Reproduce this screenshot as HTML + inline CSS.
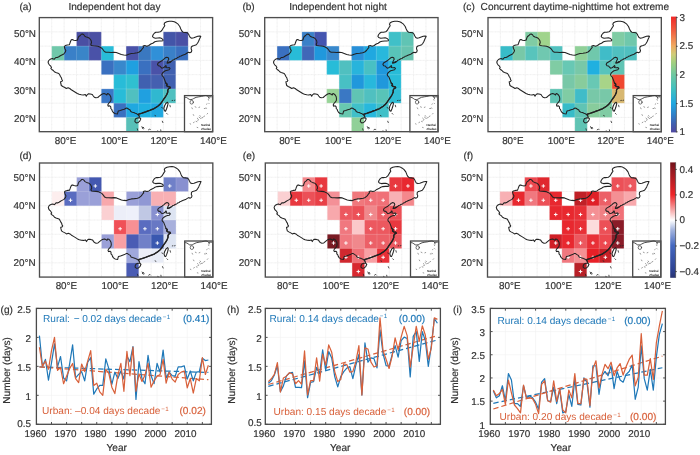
<!DOCTYPE html>
<html lang="en"><head><meta charset="utf-8"><title>Figure</title>
<style>
html,body{margin:0;padding:0;background:#fff;}
body{width:700px;height:455px;overflow:hidden;font-family:"Liberation Sans",Arial,Helvetica,sans-serif;}
svg{display:block;}
text{font-family:"Liberation Sans",Arial,Helvetica,sans-serif;text-rendering:geometricPrecision;}
</style></head><body>
<svg width="700" height="455" viewBox="0 0 700 455">
<rect width="700" height="455" fill="#fff"/>
<defs>
<g id="cn" fill="none" stroke="#222222" stroke-width="1.06" stroke-linejoin="round" stroke-linecap="round">
<path d="M8.8 44.4 L9.5 42.9 L10.5 41.9 L12.0 41.2 L13.5 40.9 L13.5 41.2 L15.0 41.6 L16.5 39.9 L18.0 39.9 L19.5 39.2 L21.0 38.2 L22.5 37.4 L24.5 36.4 L26.0 34.4 L26.5 32.9 L25.5 30.9 L25.0 28.9 L26.0 27.9 L28.0 27.4 L30.0 27.2 L30.5 25.9 L31.2 23.9 L32.0 22.2 L33.0 21.9 L34.5 22.6 L36.5 22.9 L38.2 22.4 L38.8 20.4 L39.5 18.9 L41.0 17.9 L42.0 16.6 L43.2 16.4 L44.5 17.2 L45.5 18.6 L47.0 19.4 L48.8 19.9 L50.0 20.6 L51.2 21.9 L52.0 23.4 L52.2 25.2 L51.5 26.6 L52.0 27.9 L54.0 28.2 L56.5 28.4 L58.5 28.6 L60.5 29.4 L62.5 30.6 L64.0 32.4 L65.0 33.9 L66.5 34.6 L69.0 34.7 L72.0 34.9 L74.5 34.6 L77.0 34.9 L79.5 35.9 L82.0 36.9 L84.5 37.4 L87.0 37.6 L89.5 36.6 L92.0 35.9 L95.0 35.6 L98.0 35.2 L100.0 34.4 L101.8 32.9 L103.0 31.2 L104.2 29.9 L103.8 28.4 L105.5 27.9 L107.5 28.6 L109.5 27.9 L111.5 26.4 L113.5 25.6 L115.5 24.2 L117.5 23.6 L120.0 23.4 L122.0 23.4 L123.5 23.2 L123.8 22.2 L122.5 20.9 L120.5 20.2 L118.5 20.4 L116.0 20.6 L114.0 19.9 L113.2 18.9 L113.8 17.2 L115.0 15.6 L116.5 14.6 L118.8 14.6 L121.0 14.2 L122.5 12.9 L123.5 11.2 L124.5 9.6 L125.5 8.2 L124.8 6.6 L125.5 5.2 L127.5 4.2 L130.0 3.7 L132.5 3.6 L135.0 4.1 L137.0 5.2 L138.8 6.6 L140.5 8.9 L141.5 11.4 L142.5 13.4 L143.8 14.6 L146.0 14.9 L148.0 15.2 L149.2 16.4 L150.0 18.2 L151.0 19.9 L152.5 20.6 L154.5 20.2 L156.5 19.4 L158.5 18.7 L160.5 18.4 L161.5 18.6 L160.8 20.2 L160.0 21.9 L159.2 23.9 L158.2 25.6 L157.0 27.2 L155.0 27.9 L153.2 28.4 L152.0 29.4 L151.8 31.2 L152.5 32.9 L152.0 34.4 L150.5 35.2 L149.2 34.6 L147.8 35.4 L146.0 36.6 L143.2 37.6 L141.7 38.3 L140.6 38.6 L139.8 39.4 L138.2 39.9 L137.2 41.0 L136.0 41.2 L134.5 42.2 L133.2 42.6 L132.3 43.6 L131.0 44.2 L130.0 44.9 L128.0 45.4 L128.5 43.4 L129.5 41.6 L129.0 40.2 L127.5 39.6 L126.0 40.2 L124.5 41.6 L122.5 43.2 L120.5 44.4 L118.8 45.4 L118.2 46.9 L119.0 48.2 L120.5 48.4 L121.5 49.6 L122.5 50.6 L124.0 50.2 L125.5 49.2 L126.5 47.9 L127.0 48.9 L126.5 49.9 L128.5 50.2 L130.0 49.9 L130.8 50.9 L129.8 52.2 L128.0 52.6 L126.0 53.2 L124.5 54.2 L123.2 55.4 L122.5 56.9 L123.0 58.2 L124.2 59.4 L125.0 61.4 L125.8 63.4 L126.5 65.4 L127.8 66.6 L127.2 67.9 L128.5 68.9 L130.5 69.2 L131.0 70.2 L129.5 70.9 L128.5 72.4 L128.5 74.4 L127.5 76.9 L126.0 79.4 L124.5 81.4 L123.2 83.4 L122.0 85.2 L120.5 86.9 L118.5 88.6 L116.5 89.9 L114.5 91.2 L112.5 91.9 L110.5 92.7 L108.5 93.4 L106.5 94.2 L104.5 94.9 L102.5 95.6 L100.5 96.2 L99.2 96.6 L99.8 98.2 L100.2 99.4 L99.0 97.4 L97.5 96.2 L96.0 95.6 L94.5 94.9 L93.0 94.6 L91.5 93.9 L90.8 92.4 L89.5 91.6 L88.0 90.6 L87.0 90.4 L87.0 90.4 L85.0 91.6 L83.0 92.2 L81.0 92.9 L79.0 93.4 L78.5 94.9 L78.2 96.4 L77.0 96.2 L75.5 95.9 L74.0 94.9 L73.0 93.4 L72.5 91.9 L71.5 90.9 L71.5 89.2 L70.5 88.2 L69.0 88.6 L68.5 87.4 L69.2 85.9 L70.5 84.6 L71.5 83.2 L71.8 81.4 L71.5 79.2 L70.5 77.4 L69.2 76.2 L68.2 75.9 L67.5 77.4 L66.5 76.6 L64.8 75.9 L63.0 76.4 L61.5 77.4 L60.0 78.6 L58.5 79.9 L56.5 80.2 L55.0 79.6 L54.0 78.4 L53.0 76.9 L51.0 76.4 L49.0 76.2 L47.8 77.2 L47.0 78.6 L46.0 76.9 L44.0 77.4 L42.0 77.2 L39.8 76.7 L38.0 75.9 L36.0 74.6 L34.0 73.4 L32.0 72.2 L30.5 70.9 L28.8 70.2 L27.0 70.9 L25.5 69.9 L23.5 68.9 L22.0 67.9 L21.5 65.9 L21.2 64.2 L22.5 63.9 L23.2 62.9 L22.5 61.9 L22.2 60.4 L21.2 58.9 L20.5 57.4 L19.5 55.9 L18.0 55.4 L16.5 54.9 L15.0 54.2 L14.0 52.9 L12.5 51.9 L11.5 50.9 L12.2 49.9 L11.2 48.2 L10.0 47.2 L9.2 45.9Z"/>
<path d="M95.8 102.4 L96.6 101.0 L98.5 100.3 L100.6 100.3 L101.5 101.3 L100.6 103.3 L99.0 104.9 L97.0 105.3 L95.6 104.1Z"/>
<path d="M128.2 84.6 L128.8 85.9 L128.2 88.4 L127.2 91.4 L126.2 93.6 L125.2 93.2 L124.5 90.9 L125.2 88.4 L126.5 85.9Z"/>
<path d="M126.5 65.4 L127.8 66.6 L127.2 67.9 L128.5 68.9 L130.5 69.2 L131.0 70.2 L129.5 70.9 L128.5 72.4 L128.5 74.4 L127.5 76.9 L126.0 79.4 L124.5 81.4 L123.2 83.4 L122.0 85.2 L120.5 86.9 L118.5 88.6 L116.5 89.9 L114.5 91.2 L112.5 91.9 L110.5 92.7 L108.5 93.4 L106.5 94.2 L104.5 94.9 L102.5 95.6 L100.5 96.2 L99.2 96.6" stroke-width="1.35"/>
<path d="M131.2 44.4 L129.8 44.9 L128.0 45.3" stroke-width="1.4"/>
<path d="M122.4 90.0 L123.2 90.4" stroke-width="0.8"/>
<path d="M130.6 87.6 L131.0 89.2" stroke-width="0.8"/>
<path d="M127.4 95.8 L128.2 96.6" stroke-width="0.8"/>
<path d="M132.8 82.9 L133.4 82.8" stroke-width="0.8"/>
<path d="M135.0 82.8 L135.6 82.6" stroke-width="0.8"/>
<path d="M115.6 97.9 L116.4 98.3" stroke-width="0.8"/>
<path d="M123.0 103.6 L123.6 105.0" stroke-width="0.8"/>
<path d="M102.6 109.0 L103.4 110.2 L104.0 109.4 L104.6 110.8" stroke-width="0.8"/>
<path d="M102.8 110.4 L103.8 111.2" stroke-width="0.8"/>
<path d="M109.2 112.2 L110.4 111.4 L111.0 112.0" stroke-width="0.8"/>
<path d="M118.2 113.4 L118.8 113.6" stroke-width="0.8"/>
<path d="M121.4 112.2 L121.6 113.4" stroke-width="0.8"/>
<path d="M98.0 111.2 L98.4 112.6" stroke-width="0.8"/>
</g>
<linearGradient id="cb1" x1="0" y1="1" x2="0" y2="0">
<stop offset="0" stop-color="#5048a0"/><stop offset="0.075" stop-color="#4060b0"/><stop offset="0.15" stop-color="#3080c8"/>
<stop offset="0.25" stop-color="#20a8e0"/><stop offset="0.375" stop-color="#40c0c0"/><stop offset="0.5" stop-color="#70c8a0"/>
<stop offset="0.6" stop-color="#a0d080"/><stop offset="0.675" stop-color="#d0cc78"/><stop offset="0.75" stop-color="#f0a860"/>
<stop offset="0.875" stop-color="#f06040"/><stop offset="1" stop-color="#f02828"/></linearGradient>
<linearGradient id="cb2" x1="0" y1="1" x2="0" y2="0">
<stop offset="0" stop-color="#2a3470"/><stop offset="0.06" stop-color="#2c4090"/><stop offset="0.28" stop-color="#4468c0"/>
<stop offset="0.42" stop-color="#a8b8e0"/><stop offset="0.5" stop-color="#ffffff"/><stop offset="0.58" stop-color="#f8b0b0"/>
<stop offset="0.72" stop-color="#ee2428"/><stop offset="0.94" stop-color="#901820"/><stop offset="1" stop-color="#701018"/></linearGradient>
</defs>
<g font-family="'Liberation Sans', Arial, Helvetica, sans-serif">
<g>
<path d="M51.70 17.60V131.68M64.11 17.60V131.68M76.51 17.60V131.68M88.92 17.60V131.68M101.32 17.60V131.68M113.73 17.60V131.68M126.13 17.60V131.68M138.54 17.60V131.68M150.94 17.60V131.68M163.35 17.60V131.68M175.75 17.60V131.68M188.16 17.60V131.68M200.56 17.60V131.68M39.30 31.86H212.62M39.30 46.12H212.62M39.30 60.38H212.62M39.30 74.64H212.62M39.30 88.90H212.62M39.30 103.16H212.62M39.30 117.42H212.62" stroke="#e2e2e2" stroke-width="0.6" fill="none" stroke-dasharray="1 0.4"/>
<rect x="76.51" y="31.86" width="12.90" height="14.76" fill="#4a4fa3"/>
<rect x="88.92" y="31.86" width="12.40" height="14.76" fill="#4a4fa3"/>
<rect x="163.35" y="31.86" width="12.90" height="14.76" fill="#4355a8"/>
<rect x="175.75" y="31.86" width="12.40" height="14.76" fill="#4a50a5"/>
<rect x="51.70" y="46.12" width="12.90" height="14.26" fill="#70c8aa"/>
<rect x="64.11" y="46.12" width="12.90" height="14.26" fill="#3a80c8"/>
<rect x="76.51" y="46.12" width="12.90" height="14.26" fill="#3a85c8"/>
<rect x="88.92" y="46.12" width="12.90" height="14.26" fill="#4a52a8"/>
<rect x="101.32" y="46.12" width="12.40" height="14.76" fill="#28bcd8"/>
<rect x="126.13" y="46.12" width="12.90" height="14.76" fill="#4a52a8"/>
<rect x="138.54" y="46.12" width="12.90" height="14.76" fill="#3a78c0"/>
<rect x="150.94" y="46.12" width="12.90" height="14.76" fill="#3090d8"/>
<rect x="163.35" y="46.12" width="12.90" height="14.76" fill="#3a80c8"/>
<rect x="175.75" y="46.12" width="12.40" height="14.26" fill="#3a70c0"/>
<rect x="101.32" y="60.38" width="12.90" height="14.26" fill="#3a70c0"/>
<rect x="113.73" y="60.38" width="12.90" height="14.76" fill="#3888cc"/>
<rect x="126.13" y="60.38" width="12.90" height="14.76" fill="#20a0e0"/>
<rect x="138.54" y="60.38" width="12.90" height="14.76" fill="#3a70c0"/>
<rect x="150.94" y="60.38" width="12.90" height="14.76" fill="#4a52a8"/>
<rect x="163.35" y="60.38" width="12.40" height="14.76" fill="#4060b0"/>
<rect x="113.73" y="74.64" width="12.90" height="14.76" fill="#28bcd8"/>
<rect x="126.13" y="74.64" width="12.90" height="14.76" fill="#30c0d0"/>
<rect x="138.54" y="74.64" width="12.90" height="14.76" fill="#4060b0"/>
<rect x="150.94" y="74.64" width="12.90" height="14.76" fill="#4560b0"/>
<rect x="163.35" y="74.64" width="12.40" height="14.76" fill="#4060b0"/>
<rect x="101.32" y="88.90" width="12.90" height="14.26" fill="#3a78c8"/>
<rect x="113.73" y="88.90" width="12.90" height="14.76" fill="#28bcd8"/>
<rect x="126.13" y="88.90" width="12.90" height="14.76" fill="#50c0c0"/>
<rect x="138.54" y="88.90" width="12.90" height="14.76" fill="#20a0e0"/>
<rect x="150.94" y="88.90" width="12.90" height="14.76" fill="#30b8d0"/>
<rect x="163.35" y="88.90" width="12.40" height="14.26" fill="#50c0c0"/>
<rect x="113.73" y="103.16" width="12.90" height="14.26" fill="#3a70c0"/>
<rect x="126.13" y="103.16" width="12.90" height="14.76" fill="#20a8e0"/>
<rect x="138.54" y="103.16" width="12.90" height="14.26" fill="#20b0e0"/>
<rect x="150.94" y="103.16" width="12.40" height="14.26" fill="#20a8e0"/>
<rect x="126.13" y="117.42" width="12.40" height="14.26" fill="#58c0b8"/>
<path d="M51.70 17.60V131.68M64.11 17.60V131.68M76.51 17.60V131.68M88.92 17.60V131.68M101.32 17.60V131.68M113.73 17.60V131.68M126.13 17.60V131.68M138.54 17.60V131.68M150.94 17.60V131.68M163.35 17.60V131.68M175.75 17.60V131.68M188.16 17.60V131.68M200.56 17.60V131.68M39.30 31.86H212.62M39.30 46.12H212.62M39.30 60.38H212.62M39.30 74.64H212.62M39.30 88.90H212.62M39.30 103.16H212.62M39.30 117.42H212.62" stroke="#ffffff" stroke-opacity="0.22" stroke-width="0.7" fill="none"/>
<use href="#cn" x="39.30" y="17.60"/>
<rect x="184.50" y="95.60" width="28.12" height="36.08" fill="#fff" stroke="#484848" stroke-width="1.3"/>
<g transform="translate(184.50 95.60)" fill="none" stroke="#3a3a3a" stroke-width="0.6" stroke-linecap="round">
<path d="M0.8 1.6 q1.6 0.2 2.6 1.2 q1.2 1.4 3.0 1.2 q1.6 -0.2 2.6 -1.0 q2.4 -1.6 5.4 -1.8 q2.6 -0.2 5.0 -1.0 q2.0 -0.6 3.6 0.2 q1.2 0.8 1.6 2.4 M24.2 1.4 q1.4 -0.4 2.6 -0.2" stroke-width="0.9"/>
<ellipse cx="7.2" cy="6.6" rx="1.7" ry="1.9" stroke-width="0.7"/>
<path d="M7.4 12.2l.5 1M10.6 11.2l.9.4M14.4 11.8l.8-.3M19.8 12.9h.9M21.6 12.2l.4.6M8.8 19.0l.4.8M22.6 18.4l.5-.6M14.6 21.6l.9.6M16.2 23.0l.8-.8M13.2 24.6l.9-.4M11.6 25.8l.8.3M17.8 22.4l.6-.8M19.4 20.8l.7-.3M15.4 20.0l.5.7M12.8 22.6l.6.5M9.0 27.0l.7-.4M5.6 28.2l.6.3M23.8 3.8l.3.8M24.2 7.6l.4.4M22.0 8.6l.5-.3M12.6 31.8l.7.2" stroke="#555" stroke-width="0.6"/>
</g>
<text x="201.1" y="126.2" font-size="2.90" fill="#333" stroke="#333" stroke-width="0.10" text-anchor="start" >Nanhai</text>
<text x="201.1" y="130.2" font-size="2.90" fill="#333" stroke="#333" stroke-width="0.10" text-anchor="start" >Zhudao</text>
<rect x="39.30" y="17.60" width="173.32" height="114.08" fill="none" stroke="#4e4e4e" stroke-width="1.35"/>
<text x="36.0" y="36.7" font-size="9.90" fill="#333333" stroke="#333333" stroke-width="0.18" text-anchor="end" >50°N</text>
<text x="36.0" y="65.2" font-size="9.90" fill="#333333" stroke="#333333" stroke-width="0.18" text-anchor="end" >40°N</text>
<text x="36.0" y="93.7" font-size="9.90" fill="#333333" stroke="#333333" stroke-width="0.18" text-anchor="end" >30°N</text>
<text x="36.0" y="122.2" font-size="9.90" fill="#333333" stroke="#333333" stroke-width="0.18" text-anchor="end" >20°N</text>
<text x="65.6" y="143.7" font-size="9.90" fill="#333333" stroke="#333333" stroke-width="0.18" text-anchor="middle" >80°E</text>
<text x="114.4" y="143.7" font-size="9.90" fill="#333333" stroke="#333333" stroke-width="0.18" text-anchor="middle" >100°E</text>
<text x="163.9" y="143.7" font-size="9.90" fill="#333333" stroke="#333333" stroke-width="0.18" text-anchor="middle" >120°E</text>
<text x="213.4" y="143.7" font-size="9.90" fill="#333333" stroke="#333333" stroke-width="0.18" text-anchor="middle" >140°E</text>
</g>
<g>
<path d="M277.10 17.60V131.68M289.51 17.60V131.68M301.91 17.60V131.68M314.32 17.60V131.68M326.72 17.60V131.68M339.13 17.60V131.68M351.53 17.60V131.68M363.94 17.60V131.68M376.34 17.60V131.68M388.75 17.60V131.68M401.15 17.60V131.68M413.56 17.60V131.68M425.96 17.60V131.68M264.70 31.86H438.02M264.70 46.12H438.02M264.70 60.38H438.02M264.70 74.64H438.02M264.70 88.90H438.02M264.70 103.16H438.02M264.70 117.42H438.02" stroke="#e2e2e2" stroke-width="0.6" fill="none" stroke-dasharray="1 0.4"/>
<rect x="301.91" y="31.86" width="12.90" height="14.76" fill="#3a80c8"/>
<rect x="314.32" y="31.86" width="12.40" height="14.76" fill="#4455b0"/>
<rect x="388.75" y="31.86" width="12.90" height="14.76" fill="#40c0c8"/>
<rect x="401.15" y="31.86" width="12.40" height="14.76" fill="#60c4b4"/>
<rect x="277.10" y="46.12" width="12.90" height="14.26" fill="#3a70c0"/>
<rect x="289.51" y="46.12" width="12.90" height="14.26" fill="#28bcd8"/>
<rect x="301.91" y="46.12" width="12.90" height="14.26" fill="#4068b8"/>
<rect x="314.32" y="46.12" width="12.90" height="14.26" fill="#2098dc"/>
<rect x="326.72" y="46.12" width="12.40" height="14.76" fill="#3888cc"/>
<rect x="351.53" y="46.12" width="12.90" height="14.76" fill="#2890d8"/>
<rect x="363.94" y="46.12" width="12.90" height="14.76" fill="#20a8e0"/>
<rect x="376.34" y="46.12" width="12.90" height="14.76" fill="#28b8dc"/>
<rect x="388.75" y="46.12" width="12.90" height="14.76" fill="#58c4b8"/>
<rect x="401.15" y="46.12" width="12.40" height="14.26" fill="#68c4b0"/>
<rect x="326.72" y="60.38" width="12.90" height="14.26" fill="#28bcd8"/>
<rect x="339.13" y="60.38" width="12.90" height="14.76" fill="#50c0c0"/>
<rect x="351.53" y="60.38" width="12.90" height="14.76" fill="#28b4dc"/>
<rect x="363.94" y="60.38" width="12.90" height="14.76" fill="#48c0c4"/>
<rect x="376.34" y="60.38" width="12.90" height="14.76" fill="#2098dc"/>
<rect x="388.75" y="60.38" width="12.40" height="14.76" fill="#28bcd8"/>
<rect x="339.13" y="74.64" width="12.90" height="14.76" fill="#48c0c4"/>
<rect x="351.53" y="74.64" width="12.90" height="14.76" fill="#2098dc"/>
<rect x="363.94" y="74.64" width="12.90" height="14.76" fill="#28b8dc"/>
<rect x="376.34" y="74.64" width="12.90" height="14.76" fill="#2098dc"/>
<rect x="388.75" y="74.64" width="12.40" height="14.76" fill="#28bcd8"/>
<rect x="326.72" y="88.90" width="12.90" height="14.26" fill="#98d498"/>
<rect x="339.13" y="88.90" width="12.90" height="14.76" fill="#3a78c4"/>
<rect x="351.53" y="88.90" width="12.90" height="14.76" fill="#60c4b4"/>
<rect x="363.94" y="88.90" width="12.90" height="14.76" fill="#50c0c0"/>
<rect x="376.34" y="88.90" width="12.90" height="14.76" fill="#58c4b8"/>
<rect x="388.75" y="88.90" width="12.40" height="14.26" fill="#30bcd4"/>
<rect x="339.13" y="103.16" width="12.90" height="14.26" fill="#68c8b0"/>
<rect x="351.53" y="103.16" width="12.90" height="14.76" fill="#40c0c8"/>
<rect x="363.94" y="103.16" width="12.90" height="14.26" fill="#28b8dc"/>
<rect x="376.34" y="103.16" width="12.40" height="14.26" fill="#40c0c8"/>
<rect x="351.53" y="117.42" width="12.40" height="14.26" fill="#90d098"/>
<path d="M277.10 17.60V131.68M289.51 17.60V131.68M301.91 17.60V131.68M314.32 17.60V131.68M326.72 17.60V131.68M339.13 17.60V131.68M351.53 17.60V131.68M363.94 17.60V131.68M376.34 17.60V131.68M388.75 17.60V131.68M401.15 17.60V131.68M413.56 17.60V131.68M425.96 17.60V131.68M264.70 31.86H438.02M264.70 46.12H438.02M264.70 60.38H438.02M264.70 74.64H438.02M264.70 88.90H438.02M264.70 103.16H438.02M264.70 117.42H438.02" stroke="#ffffff" stroke-opacity="0.22" stroke-width="0.7" fill="none"/>
<use href="#cn" x="264.70" y="17.60"/>
<rect x="409.90" y="95.60" width="28.12" height="36.08" fill="#fff" stroke="#484848" stroke-width="1.3"/>
<g transform="translate(409.90 95.60)" fill="none" stroke="#3a3a3a" stroke-width="0.6" stroke-linecap="round">
<path d="M0.8 1.6 q1.6 0.2 2.6 1.2 q1.2 1.4 3.0 1.2 q1.6 -0.2 2.6 -1.0 q2.4 -1.6 5.4 -1.8 q2.6 -0.2 5.0 -1.0 q2.0 -0.6 3.6 0.2 q1.2 0.8 1.6 2.4 M24.2 1.4 q1.4 -0.4 2.6 -0.2" stroke-width="0.9"/>
<ellipse cx="7.2" cy="6.6" rx="1.7" ry="1.9" stroke-width="0.7"/>
<path d="M7.4 12.2l.5 1M10.6 11.2l.9.4M14.4 11.8l.8-.3M19.8 12.9h.9M21.6 12.2l.4.6M8.8 19.0l.4.8M22.6 18.4l.5-.6M14.6 21.6l.9.6M16.2 23.0l.8-.8M13.2 24.6l.9-.4M11.6 25.8l.8.3M17.8 22.4l.6-.8M19.4 20.8l.7-.3M15.4 20.0l.5.7M12.8 22.6l.6.5M9.0 27.0l.7-.4M5.6 28.2l.6.3M23.8 3.8l.3.8M24.2 7.6l.4.4M22.0 8.6l.5-.3M12.6 31.8l.7.2" stroke="#555" stroke-width="0.6"/>
</g>
<text x="426.5" y="126.2" font-size="2.90" fill="#333" stroke="#333" stroke-width="0.10" text-anchor="start" >Nanhai</text>
<text x="426.5" y="130.2" font-size="2.90" fill="#333" stroke="#333" stroke-width="0.10" text-anchor="start" >Zhudao</text>
<rect x="264.70" y="17.60" width="173.32" height="114.08" fill="none" stroke="#4e4e4e" stroke-width="1.35"/>
<text x="260.9" y="36.7" font-size="9.90" fill="#333333" stroke="#333333" stroke-width="0.18" text-anchor="end" >50°N</text>
<text x="260.9" y="65.2" font-size="9.90" fill="#333333" stroke="#333333" stroke-width="0.18" text-anchor="end" >40°N</text>
<text x="260.9" y="93.7" font-size="9.90" fill="#333333" stroke="#333333" stroke-width="0.18" text-anchor="end" >30°N</text>
<text x="260.9" y="122.2" font-size="9.90" fill="#333333" stroke="#333333" stroke-width="0.18" text-anchor="end" >20°N</text>
<text x="289.9" y="143.7" font-size="9.90" fill="#333333" stroke="#333333" stroke-width="0.18" text-anchor="middle" >80°E</text>
<text x="338.4" y="143.7" font-size="9.90" fill="#333333" stroke="#333333" stroke-width="0.18" text-anchor="middle" >100°E</text>
<text x="387.9" y="143.7" font-size="9.90" fill="#333333" stroke="#333333" stroke-width="0.18" text-anchor="middle" >120°E</text>
<text x="437.4" y="143.7" font-size="9.90" fill="#333333" stroke="#333333" stroke-width="0.18" text-anchor="middle" >140°E</text>
</g>
<g>
<path d="M500.40 17.60V131.68M512.81 17.60V131.68M525.22 17.60V131.68M537.62 17.60V131.68M550.02 17.60V131.68M562.43 17.60V131.68M574.84 17.60V131.68M587.24 17.60V131.68M599.64 17.60V131.68M612.05 17.60V131.68M624.45 17.60V131.68M636.86 17.60V131.68M649.26 17.60V131.68M488.00 31.86H661.32M488.00 46.12H661.32M488.00 60.38H661.32M488.00 74.64H661.32M488.00 88.90H661.32M488.00 103.16H661.32M488.00 117.42H661.32" stroke="#e2e2e2" stroke-width="0.6" fill="none" stroke-dasharray="1 0.4"/>
<rect x="525.22" y="31.86" width="12.90" height="14.76" fill="#80cca4"/>
<rect x="537.62" y="31.86" width="12.40" height="14.76" fill="#a0d48c"/>
<rect x="612.05" y="31.86" width="12.90" height="14.76" fill="#80cca4"/>
<rect x="624.45" y="31.86" width="12.40" height="14.76" fill="#70c8ac"/>
<rect x="500.40" y="46.12" width="12.90" height="14.26" fill="#38bcc8"/>
<rect x="512.81" y="46.12" width="12.90" height="14.26" fill="#78c8a8"/>
<rect x="525.22" y="46.12" width="12.90" height="14.26" fill="#58c4bc"/>
<rect x="537.62" y="46.12" width="12.90" height="14.26" fill="#70c8b0"/>
<rect x="550.02" y="46.12" width="12.40" height="14.76" fill="#52c2c0"/>
<rect x="574.84" y="46.12" width="12.90" height="14.76" fill="#90d098"/>
<rect x="587.24" y="46.12" width="12.90" height="14.76" fill="#70c8ac"/>
<rect x="599.64" y="46.12" width="12.90" height="14.76" fill="#40bcc8"/>
<rect x="612.05" y="46.12" width="12.90" height="14.76" fill="#50c0c0"/>
<rect x="624.45" y="46.12" width="12.40" height="14.26" fill="#50c0c0"/>
<rect x="550.02" y="60.38" width="12.90" height="14.26" fill="#80cca4"/>
<rect x="562.43" y="60.38" width="12.90" height="14.76" fill="#68c8b4"/>
<rect x="574.84" y="60.38" width="12.90" height="14.76" fill="#78c8a8"/>
<rect x="587.24" y="60.38" width="12.90" height="14.76" fill="#20b0e0"/>
<rect x="599.64" y="60.38" width="12.90" height="14.76" fill="#58c4bc"/>
<rect x="612.05" y="60.38" width="12.40" height="14.76" fill="#60c4b4"/>
<rect x="562.43" y="74.64" width="12.90" height="14.76" fill="#78c8a8"/>
<rect x="574.84" y="74.64" width="12.90" height="14.76" fill="#88cc9c"/>
<rect x="587.24" y="74.64" width="12.90" height="14.76" fill="#68c8b4"/>
<rect x="599.64" y="74.64" width="12.90" height="14.76" fill="#a8d488"/>
<rect x="612.05" y="74.64" width="12.40" height="14.76" fill="#f04830"/>
<rect x="550.02" y="88.90" width="12.90" height="14.26" fill="#60c4b4"/>
<rect x="562.43" y="88.90" width="12.90" height="14.76" fill="#80cca4"/>
<rect x="574.84" y="88.90" width="12.90" height="14.76" fill="#40bcc8"/>
<rect x="587.24" y="88.90" width="12.90" height="14.76" fill="#78c8a8"/>
<rect x="599.64" y="88.90" width="12.90" height="14.76" fill="#78c8a8"/>
<rect x="612.05" y="88.90" width="12.40" height="14.26" fill="#d8b870"/>
<rect x="562.43" y="103.16" width="12.90" height="14.26" fill="#38bcc8"/>
<rect x="574.84" y="103.16" width="12.90" height="14.76" fill="#60c4b4"/>
<rect x="587.24" y="103.16" width="12.90" height="14.26" fill="#88cc9c"/>
<rect x="599.64" y="103.16" width="12.40" height="14.26" fill="#80cca4"/>
<rect x="574.84" y="117.42" width="12.40" height="14.26" fill="#60c4b4"/>
<path d="M500.40 17.60V131.68M512.81 17.60V131.68M525.22 17.60V131.68M537.62 17.60V131.68M550.02 17.60V131.68M562.43 17.60V131.68M574.84 17.60V131.68M587.24 17.60V131.68M599.64 17.60V131.68M612.05 17.60V131.68M624.45 17.60V131.68M636.86 17.60V131.68M649.26 17.60V131.68M488.00 31.86H661.32M488.00 46.12H661.32M488.00 60.38H661.32M488.00 74.64H661.32M488.00 88.90H661.32M488.00 103.16H661.32M488.00 117.42H661.32" stroke="#ffffff" stroke-opacity="0.22" stroke-width="0.7" fill="none"/>
<use href="#cn" x="488.00" y="17.60"/>
<rect x="633.20" y="95.60" width="28.12" height="36.08" fill="#fff" stroke="#484848" stroke-width="1.3"/>
<g transform="translate(633.20 95.60)" fill="none" stroke="#3a3a3a" stroke-width="0.6" stroke-linecap="round">
<path d="M0.8 1.6 q1.6 0.2 2.6 1.2 q1.2 1.4 3.0 1.2 q1.6 -0.2 2.6 -1.0 q2.4 -1.6 5.4 -1.8 q2.6 -0.2 5.0 -1.0 q2.0 -0.6 3.6 0.2 q1.2 0.8 1.6 2.4 M24.2 1.4 q1.4 -0.4 2.6 -0.2" stroke-width="0.9"/>
<ellipse cx="7.2" cy="6.6" rx="1.7" ry="1.9" stroke-width="0.7"/>
<path d="M7.4 12.2l.5 1M10.6 11.2l.9.4M14.4 11.8l.8-.3M19.8 12.9h.9M21.6 12.2l.4.6M8.8 19.0l.4.8M22.6 18.4l.5-.6M14.6 21.6l.9.6M16.2 23.0l.8-.8M13.2 24.6l.9-.4M11.6 25.8l.8.3M17.8 22.4l.6-.8M19.4 20.8l.7-.3M15.4 20.0l.5.7M12.8 22.6l.6.5M9.0 27.0l.7-.4M5.6 28.2l.6.3M23.8 3.8l.3.8M24.2 7.6l.4.4M22.0 8.6l.5-.3M12.6 31.8l.7.2" stroke="#555" stroke-width="0.6"/>
</g>
<text x="649.8" y="126.2" font-size="2.90" fill="#333" stroke="#333" stroke-width="0.10" text-anchor="start" >Nanhai</text>
<text x="649.8" y="130.2" font-size="2.90" fill="#333" stroke="#333" stroke-width="0.10" text-anchor="start" >Zhudao</text>
<rect x="488.00" y="17.60" width="173.32" height="114.08" fill="none" stroke="#4e4e4e" stroke-width="1.35"/>
<text x="483.5" y="36.7" font-size="9.90" fill="#333333" stroke="#333333" stroke-width="0.18" text-anchor="end" >50°N</text>
<text x="483.5" y="65.2" font-size="9.90" fill="#333333" stroke="#333333" stroke-width="0.18" text-anchor="end" >40°N</text>
<text x="483.5" y="93.7" font-size="9.90" fill="#333333" stroke="#333333" stroke-width="0.18" text-anchor="end" >30°N</text>
<text x="483.5" y="122.2" font-size="9.90" fill="#333333" stroke="#333333" stroke-width="0.18" text-anchor="end" >20°N</text>
<text x="512.9" y="143.7" font-size="9.90" fill="#333333" stroke="#333333" stroke-width="0.18" text-anchor="middle" >80°E</text>
<text x="561.3" y="143.7" font-size="9.90" fill="#333333" stroke="#333333" stroke-width="0.18" text-anchor="middle" >100°E</text>
<text x="610.8" y="143.7" font-size="9.90" fill="#333333" stroke="#333333" stroke-width="0.18" text-anchor="middle" >120°E</text>
<text x="660.3" y="143.7" font-size="9.90" fill="#333333" stroke="#333333" stroke-width="0.18" text-anchor="middle" >140°E</text>
</g>
<g>
<path d="M51.91 163.00V277.08M64.31 163.00V277.08M76.72 163.00V277.08M89.12 163.00V277.08M101.53 163.00V277.08M113.93 163.00V277.08M126.33 163.00V277.08M138.74 163.00V277.08M151.14 163.00V277.08M163.55 163.00V277.08M175.95 163.00V277.08M188.36 163.00V277.08M200.76 163.00V277.08M39.50 177.26H212.82M39.50 191.52H212.82M39.50 205.78H212.82M39.50 220.04H212.82M39.50 234.30H212.82M39.50 248.56H212.82M39.50 262.82H212.82" stroke="#e2e2e2" stroke-width="0.6" fill="none" stroke-dasharray="1 0.4"/>
<rect x="76.72" y="177.26" width="12.90" height="14.76" fill="#9aa0d8"/>
<rect x="89.12" y="177.26" width="12.40" height="14.76" fill="#4458b0"/>
<rect x="163.55" y="177.26" width="12.90" height="14.76" fill="#7080c8"/>
<rect x="175.95" y="177.26" width="12.40" height="14.26" fill="#8890d0"/>
<rect x="51.91" y="191.52" width="12.90" height="14.26" fill="#fdeeee"/>
<rect x="64.31" y="191.52" width="12.90" height="14.26" fill="#5a6cc0"/>
<rect x="76.72" y="191.52" width="12.90" height="14.26" fill="#9aa0d8"/>
<rect x="89.12" y="191.52" width="12.90" height="14.26" fill="#9aa0d8"/>
<rect x="101.53" y="191.52" width="12.40" height="14.76" fill="#f8a8ac"/>
<rect x="126.33" y="191.52" width="12.90" height="14.76" fill="#9aa0d8"/>
<rect x="138.74" y="191.52" width="12.90" height="14.76" fill="#9098d4"/>
<rect x="151.14" y="191.52" width="12.90" height="14.76" fill="#f8b0b4"/>
<rect x="163.55" y="191.52" width="12.40" height="14.76" fill="#f8b0b4"/>
<rect x="101.53" y="205.78" width="12.90" height="14.26" fill="#fbd0d2"/>
<rect x="113.93" y="205.78" width="12.90" height="14.76" fill="#eceef8"/>
<rect x="126.33" y="205.78" width="12.90" height="14.76" fill="#eef0fa"/>
<rect x="138.74" y="205.78" width="12.90" height="14.76" fill="#c0c8e4"/>
<rect x="151.14" y="205.78" width="12.90" height="14.76" fill="#8890d0"/>
<rect x="163.55" y="205.78" width="12.40" height="14.76" fill="#dde4f2"/>
<rect x="113.93" y="220.04" width="12.90" height="14.76" fill="#f05057"/>
<rect x="126.33" y="220.04" width="12.90" height="14.76" fill="#f89094"/>
<rect x="138.74" y="220.04" width="12.90" height="14.76" fill="#5a6cc0"/>
<rect x="151.14" y="220.04" width="12.90" height="14.76" fill="#6878c4"/>
<rect x="163.55" y="220.04" width="12.40" height="14.76" fill="#a8b0dc"/>
<rect x="101.53" y="234.30" width="12.90" height="14.26" fill="#9aa0d8"/>
<rect x="113.93" y="234.30" width="12.90" height="14.26" fill="#f8a0a4"/>
<rect x="126.33" y="234.30" width="12.90" height="14.76" fill="#4a5cb4"/>
<rect x="138.74" y="234.30" width="12.90" height="14.76" fill="#7080c8"/>
<rect x="151.14" y="234.30" width="12.90" height="14.76" fill="#3a58b0"/>
<rect x="163.55" y="234.30" width="12.40" height="14.26" fill="#dde4f2"/>
<rect x="126.33" y="248.56" width="12.90" height="14.76" fill="#a0a8dc"/>
<rect x="138.74" y="248.56" width="12.90" height="14.26" fill="#eceef8"/>
<rect x="151.14" y="248.56" width="12.40" height="14.26" fill="#e8ecf6"/>
<rect x="126.33" y="262.82" width="12.40" height="14.26" fill="#4a5cb4"/>
<path d="M51.91 163.00V277.08M64.31 163.00V277.08M76.72 163.00V277.08M89.12 163.00V277.08M101.53 163.00V277.08M113.93 163.00V277.08M126.33 163.00V277.08M138.74 163.00V277.08M151.14 163.00V277.08M163.55 163.00V277.08M175.95 163.00V277.08M188.36 163.00V277.08M200.76 163.00V277.08M39.50 177.26H212.82M39.50 191.52H212.82M39.50 205.78H212.82M39.50 220.04H212.82M39.50 234.30H212.82M39.50 248.56H212.82M39.50 262.82H212.82" stroke="#ffffff" stroke-opacity="0.22" stroke-width="0.7" fill="none"/>
<path d="M93.52 185.99h3.6M95.32 184.19v3.6" stroke="#fff" stroke-width="0.95"/>
<path d="M167.95 185.99h3.6M169.75 184.19v3.6" stroke="#fff" stroke-width="0.95"/>
<path d="M68.71 200.25h3.6M70.51 198.45v3.6" stroke="#fff" stroke-width="0.95"/>
<path d="M155.55 214.51h3.6M157.35 212.71v3.6" stroke="#fff" stroke-width="0.95"/>
<path d="M118.33 228.77h3.6M120.13 226.97v3.6" stroke="#fff" stroke-width="0.95"/>
<path d="M143.14 228.77h3.6M144.94 226.97v3.6" stroke="#fff" stroke-width="0.95"/>
<path d="M155.55 228.77h3.6M157.35 226.97v3.6" stroke="#fff" stroke-width="0.95"/>
<path d="M155.55 243.03h3.6M157.35 241.23v3.6" stroke="#fff" stroke-width="0.95"/>
<use href="#cn" x="39.50" y="163.00"/>
<rect x="184.70" y="241.00" width="28.12" height="36.08" fill="#fff" stroke="#484848" stroke-width="1.3"/>
<g transform="translate(184.70 241.00)" fill="none" stroke="#3a3a3a" stroke-width="0.6" stroke-linecap="round">
<path d="M0.8 1.6 q1.6 0.2 2.6 1.2 q1.2 1.4 3.0 1.2 q1.6 -0.2 2.6 -1.0 q2.4 -1.6 5.4 -1.8 q2.6 -0.2 5.0 -1.0 q2.0 -0.6 3.6 0.2 q1.2 0.8 1.6 2.4 M24.2 1.4 q1.4 -0.4 2.6 -0.2" stroke-width="0.9"/>
<ellipse cx="7.2" cy="6.6" rx="1.7" ry="1.9" stroke-width="0.7"/>
<path d="M7.4 12.2l.5 1M10.6 11.2l.9.4M14.4 11.8l.8-.3M19.8 12.9h.9M21.6 12.2l.4.6M8.8 19.0l.4.8M22.6 18.4l.5-.6M14.6 21.6l.9.6M16.2 23.0l.8-.8M13.2 24.6l.9-.4M11.6 25.8l.8.3M17.8 22.4l.6-.8M19.4 20.8l.7-.3M15.4 20.0l.5.7M12.8 22.6l.6.5M9.0 27.0l.7-.4M5.6 28.2l.6.3M23.8 3.8l.3.8M24.2 7.6l.4.4M22.0 8.6l.5-.3M12.6 31.8l.7.2" stroke="#555" stroke-width="0.6"/>
</g>
<text x="201.3" y="271.6" font-size="2.90" fill="#333" stroke="#333" stroke-width="0.10" text-anchor="start" >Nanhai</text>
<text x="201.3" y="275.6" font-size="2.90" fill="#333" stroke="#333" stroke-width="0.10" text-anchor="start" >Zhudao</text>
<rect x="39.50" y="163.00" width="173.32" height="114.08" fill="none" stroke="#4e4e4e" stroke-width="1.35"/>
<text x="35.7" y="180.7" font-size="9.90" fill="#333333" stroke="#333333" stroke-width="0.18" text-anchor="end" >50°N</text>
<text x="35.7" y="209.2" font-size="9.90" fill="#333333" stroke="#333333" stroke-width="0.18" text-anchor="end" >40°N</text>
<text x="35.7" y="237.7" font-size="9.90" fill="#333333" stroke="#333333" stroke-width="0.18" text-anchor="end" >30°N</text>
<text x="35.7" y="266.2" font-size="9.90" fill="#333333" stroke="#333333" stroke-width="0.18" text-anchor="end" >20°N</text>
<text x="66.4" y="289.1" font-size="9.90" fill="#333333" stroke="#333333" stroke-width="0.18" text-anchor="middle" >80°E</text>
<text x="115.1" y="289.1" font-size="9.90" fill="#333333" stroke="#333333" stroke-width="0.18" text-anchor="middle" >100°E</text>
<text x="164.6" y="289.1" font-size="9.90" fill="#333333" stroke="#333333" stroke-width="0.18" text-anchor="middle" >120°E</text>
<text x="214.1" y="289.1" font-size="9.90" fill="#333333" stroke="#333333" stroke-width="0.18" text-anchor="middle" >140°E</text>
</g>
<g>
<path d="M277.70 163.00V277.08M290.11 163.00V277.08M302.51 163.00V277.08M314.92 163.00V277.08M327.32 163.00V277.08M339.73 163.00V277.08M352.13 163.00V277.08M364.54 163.00V277.08M376.94 163.00V277.08M389.35 163.00V277.08M401.75 163.00V277.08M414.16 163.00V277.08M426.56 163.00V277.08M265.30 177.26H438.62M265.30 191.52H438.62M265.30 205.78H438.62M265.30 220.04H438.62M265.30 234.30H438.62M265.30 248.56H438.62M265.30 262.82H438.62" stroke="#e2e2e2" stroke-width="0.6" fill="none" stroke-dasharray="1 0.4"/>
<rect x="302.51" y="177.26" width="12.90" height="14.76" fill="#f4888c"/>
<rect x="314.92" y="177.26" width="12.40" height="14.76" fill="#e8383f"/>
<rect x="389.35" y="177.26" width="12.90" height="14.76" fill="#e8383f"/>
<rect x="401.75" y="177.26" width="12.40" height="14.76" fill="#e8282f"/>
<rect x="277.70" y="191.52" width="12.90" height="14.26" fill="#fbd0d2"/>
<rect x="290.11" y="191.52" width="12.90" height="14.26" fill="#e8383f"/>
<rect x="302.51" y="191.52" width="12.90" height="14.26" fill="#ec5057"/>
<rect x="314.92" y="191.52" width="12.90" height="14.26" fill="#e84047"/>
<rect x="327.32" y="191.52" width="12.40" height="14.76" fill="#f49097"/>
<rect x="352.13" y="191.52" width="12.90" height="14.76" fill="#f0787c"/>
<rect x="364.54" y="191.52" width="12.90" height="14.76" fill="#f07077"/>
<rect x="376.94" y="191.52" width="12.90" height="14.76" fill="#f07077"/>
<rect x="389.35" y="191.52" width="12.90" height="14.76" fill="#f8b0b4"/>
<rect x="401.75" y="191.52" width="12.40" height="14.26" fill="#f4888c"/>
<rect x="327.32" y="205.78" width="12.90" height="14.26" fill="#f8a8ac"/>
<rect x="339.73" y="205.78" width="12.90" height="14.76" fill="#ec585f"/>
<rect x="352.13" y="205.78" width="12.90" height="14.76" fill="#ec5057"/>
<rect x="364.54" y="205.78" width="12.90" height="14.76" fill="#f0888c"/>
<rect x="376.94" y="205.78" width="12.90" height="14.76" fill="#ec6067"/>
<rect x="389.35" y="205.78" width="12.40" height="14.76" fill="#ec5057"/>
<rect x="339.73" y="220.04" width="12.90" height="14.76" fill="#f0787f"/>
<rect x="352.13" y="220.04" width="12.90" height="14.76" fill="#fbc8ca"/>
<rect x="364.54" y="220.04" width="12.90" height="14.76" fill="#ec585f"/>
<rect x="376.94" y="220.04" width="12.90" height="14.76" fill="#ec585f"/>
<rect x="389.35" y="220.04" width="12.40" height="14.76" fill="#e8383f"/>
<rect x="327.32" y="234.30" width="12.90" height="14.26" fill="#7a1c24"/>
<rect x="339.73" y="234.30" width="12.90" height="14.76" fill="#f0787f"/>
<rect x="352.13" y="234.30" width="12.90" height="14.76" fill="#f0888c"/>
<rect x="364.54" y="234.30" width="12.90" height="14.76" fill="#ec6067"/>
<rect x="376.94" y="234.30" width="12.90" height="14.76" fill="#ec6067"/>
<rect x="389.35" y="234.30" width="12.40" height="14.26" fill="#ec585f"/>
<rect x="339.73" y="248.56" width="12.90" height="14.26" fill="#d0282f"/>
<rect x="352.13" y="248.56" width="12.90" height="14.76" fill="#f07077"/>
<rect x="364.54" y="248.56" width="12.90" height="14.26" fill="#f8a0a4"/>
<rect x="376.94" y="248.56" width="12.40" height="14.26" fill="#e83037"/>
<rect x="352.13" y="262.82" width="12.40" height="14.26" fill="#d8282f"/>
<path d="M277.70 163.00V277.08M290.11 163.00V277.08M302.51 163.00V277.08M314.92 163.00V277.08M327.32 163.00V277.08M339.73 163.00V277.08M352.13 163.00V277.08M364.54 163.00V277.08M376.94 163.00V277.08M389.35 163.00V277.08M401.75 163.00V277.08M414.16 163.00V277.08M426.56 163.00V277.08M265.30 177.26H438.62M265.30 191.52H438.62M265.30 205.78H438.62M265.30 220.04H438.62M265.30 234.30H438.62M265.30 248.56H438.62M265.30 262.82H438.62" stroke="#ffffff" stroke-opacity="0.22" stroke-width="0.7" fill="none"/>
<path d="M306.92 185.99h3.6M308.72 184.19v3.6" stroke="#fff" stroke-width="0.95"/>
<path d="M319.32 185.99h3.6M321.12 184.19v3.6" stroke="#fff" stroke-width="0.95"/>
<path d="M393.75 185.99h3.6M395.55 184.19v3.6" stroke="#fff" stroke-width="0.95"/>
<path d="M406.16 185.99h3.6M407.96 184.19v3.6" stroke="#fff" stroke-width="0.95"/>
<path d="M294.51 200.25h3.6M296.31 198.45v3.6" stroke="#fff" stroke-width="0.95"/>
<path d="M306.92 200.25h3.6M308.72 198.45v3.6" stroke="#fff" stroke-width="0.95"/>
<path d="M319.32 200.25h3.6M321.12 198.45v3.6" stroke="#fff" stroke-width="0.95"/>
<path d="M356.54 200.25h3.6M358.34 198.45v3.6" stroke="#fff" stroke-width="0.95"/>
<path d="M368.94 200.25h3.6M370.74 198.45v3.6" stroke="#fff" stroke-width="0.95"/>
<path d="M381.35 200.25h3.6M383.15 198.45v3.6" stroke="#fff" stroke-width="0.95"/>
<path d="M344.13 214.51h3.6M345.93 212.71v3.6" stroke="#fff" stroke-width="0.95"/>
<path d="M356.54 214.51h3.6M358.34 212.71v3.6" stroke="#fff" stroke-width="0.95"/>
<path d="M368.94 214.51h3.6M370.74 212.71v3.6" stroke="#fff" stroke-width="0.95"/>
<path d="M381.35 214.51h3.6M383.15 212.71v3.6" stroke="#fff" stroke-width="0.95"/>
<path d="M393.75 214.51h3.6M395.55 212.71v3.6" stroke="#fff" stroke-width="0.95"/>
<path d="M344.13 228.77h3.6M345.93 226.97v3.6" stroke="#fff" stroke-width="0.95"/>
<path d="M368.94 228.77h3.6M370.74 226.97v3.6" stroke="#fff" stroke-width="0.95"/>
<path d="M381.35 228.77h3.6M383.15 226.97v3.6" stroke="#fff" stroke-width="0.95"/>
<path d="M393.75 228.77h3.6M395.55 226.97v3.6" stroke="#fff" stroke-width="0.95"/>
<path d="M331.73 243.03h3.6M333.53 241.23v3.6" stroke="#fff" stroke-width="0.95"/>
<path d="M344.13 243.03h3.6M345.93 241.23v3.6" stroke="#fff" stroke-width="0.95"/>
<path d="M368.94 243.03h3.6M370.74 241.23v3.6" stroke="#fff" stroke-width="0.95"/>
<path d="M381.35 243.03h3.6M383.15 241.23v3.6" stroke="#fff" stroke-width="0.95"/>
<path d="M393.75 243.03h3.6M395.55 241.23v3.6" stroke="#fff" stroke-width="0.95"/>
<path d="M344.13 257.29h3.6M345.93 255.49v3.6" stroke="#fff" stroke-width="0.95"/>
<path d="M356.54 257.29h3.6M358.34 255.49v3.6" stroke="#fff" stroke-width="0.95"/>
<path d="M368.94 257.29h3.6M370.74 255.49v3.6" stroke="#fff" stroke-width="0.95"/>
<path d="M381.35 257.29h3.6M383.15 255.49v3.6" stroke="#fff" stroke-width="0.95"/>
<path d="M356.54 271.55h3.6M358.34 269.75v3.6" stroke="#fff" stroke-width="0.95"/>
<use href="#cn" x="265.30" y="163.00"/>
<rect x="410.50" y="241.00" width="28.12" height="36.08" fill="#fff" stroke="#484848" stroke-width="1.3"/>
<g transform="translate(410.50 241.00)" fill="none" stroke="#3a3a3a" stroke-width="0.6" stroke-linecap="round">
<path d="M0.8 1.6 q1.6 0.2 2.6 1.2 q1.2 1.4 3.0 1.2 q1.6 -0.2 2.6 -1.0 q2.4 -1.6 5.4 -1.8 q2.6 -0.2 5.0 -1.0 q2.0 -0.6 3.6 0.2 q1.2 0.8 1.6 2.4 M24.2 1.4 q1.4 -0.4 2.6 -0.2" stroke-width="0.9"/>
<ellipse cx="7.2" cy="6.6" rx="1.7" ry="1.9" stroke-width="0.7"/>
<path d="M7.4 12.2l.5 1M10.6 11.2l.9.4M14.4 11.8l.8-.3M19.8 12.9h.9M21.6 12.2l.4.6M8.8 19.0l.4.8M22.6 18.4l.5-.6M14.6 21.6l.9.6M16.2 23.0l.8-.8M13.2 24.6l.9-.4M11.6 25.8l.8.3M17.8 22.4l.6-.8M19.4 20.8l.7-.3M15.4 20.0l.5.7M12.8 22.6l.6.5M9.0 27.0l.7-.4M5.6 28.2l.6.3M23.8 3.8l.3.8M24.2 7.6l.4.4M22.0 8.6l.5-.3M12.6 31.8l.7.2" stroke="#555" stroke-width="0.6"/>
</g>
<text x="427.1" y="271.6" font-size="2.90" fill="#333" stroke="#333" stroke-width="0.10" text-anchor="start" >Nanhai</text>
<text x="427.1" y="275.6" font-size="2.90" fill="#333" stroke="#333" stroke-width="0.10" text-anchor="start" >Zhudao</text>
<rect x="265.30" y="163.00" width="173.32" height="114.08" fill="none" stroke="#4e4e4e" stroke-width="1.35"/>
<text x="260.8" y="180.7" font-size="9.90" fill="#333333" stroke="#333333" stroke-width="0.18" text-anchor="end" >50°N</text>
<text x="260.8" y="209.2" font-size="9.90" fill="#333333" stroke="#333333" stroke-width="0.18" text-anchor="end" >40°N</text>
<text x="260.8" y="237.7" font-size="9.90" fill="#333333" stroke="#333333" stroke-width="0.18" text-anchor="end" >30°N</text>
<text x="260.8" y="266.2" font-size="9.90" fill="#333333" stroke="#333333" stroke-width="0.18" text-anchor="end" >20°N</text>
<text x="287.8" y="289.1" font-size="9.90" fill="#333333" stroke="#333333" stroke-width="0.18" text-anchor="middle" >80°E</text>
<text x="336.2" y="289.1" font-size="9.90" fill="#333333" stroke="#333333" stroke-width="0.18" text-anchor="middle" >100°E</text>
<text x="385.7" y="289.1" font-size="9.90" fill="#333333" stroke="#333333" stroke-width="0.18" text-anchor="middle" >120°E</text>
<text x="435.2" y="289.1" font-size="9.90" fill="#333333" stroke="#333333" stroke-width="0.18" text-anchor="middle" >140°E</text>
</g>
<g>
<path d="M499.90 163.00V277.08M512.31 163.00V277.08M524.72 163.00V277.08M537.12 163.00V277.08M549.52 163.00V277.08M561.93 163.00V277.08M574.34 163.00V277.08M586.74 163.00V277.08M599.14 163.00V277.08M611.55 163.00V277.08M623.95 163.00V277.08M636.36 163.00V277.08M648.76 163.00V277.08M487.50 177.26H660.82M487.50 191.52H660.82M487.50 205.78H660.82M487.50 220.04H660.82M487.50 234.30H660.82M487.50 248.56H660.82M487.50 262.82H660.82" stroke="#e2e2e2" stroke-width="0.6" fill="none" stroke-dasharray="1 0.4"/>
<rect x="524.72" y="177.26" width="12.90" height="14.76" fill="#ec484f"/>
<rect x="537.12" y="177.26" width="12.40" height="14.76" fill="#e0282f"/>
<rect x="611.55" y="177.26" width="12.90" height="14.76" fill="#ec5057"/>
<rect x="623.95" y="177.26" width="12.40" height="14.76" fill="#ec585f"/>
<rect x="499.90" y="191.52" width="12.90" height="14.26" fill="#f8b0b4"/>
<rect x="512.31" y="191.52" width="12.90" height="14.26" fill="#e8282f"/>
<rect x="524.72" y="191.52" width="12.90" height="14.26" fill="#f0787f"/>
<rect x="537.12" y="191.52" width="12.90" height="14.26" fill="#ec5057"/>
<rect x="549.52" y="191.52" width="12.40" height="14.76" fill="#e8282f"/>
<rect x="574.34" y="191.52" width="12.90" height="14.76" fill="#c02027"/>
<rect x="586.74" y="191.52" width="12.90" height="14.76" fill="#e02027"/>
<rect x="599.14" y="191.52" width="12.90" height="14.76" fill="#ec6067"/>
<rect x="611.55" y="191.52" width="12.90" height="14.76" fill="#f49094"/>
<rect x="623.95" y="191.52" width="12.40" height="14.26" fill="#f8a8ac"/>
<rect x="549.52" y="205.78" width="12.90" height="14.26" fill="#e8282f"/>
<rect x="561.93" y="205.78" width="12.90" height="14.76" fill="#e8282f"/>
<rect x="574.34" y="205.78" width="12.90" height="14.76" fill="#e83037"/>
<rect x="586.74" y="205.78" width="12.90" height="14.76" fill="#f49094"/>
<rect x="599.14" y="205.78" width="12.90" height="14.76" fill="#f08084"/>
<rect x="611.55" y="205.78" width="12.40" height="14.76" fill="#f07077"/>
<rect x="561.93" y="220.04" width="12.90" height="14.76" fill="#e8282f"/>
<rect x="574.34" y="220.04" width="12.90" height="14.76" fill="#e83037"/>
<rect x="586.74" y="220.04" width="12.90" height="14.76" fill="#fcdcdc"/>
<rect x="599.14" y="220.04" width="12.90" height="14.76" fill="#ec5057"/>
<rect x="611.55" y="220.04" width="12.40" height="14.76" fill="#8a1c28"/>
<rect x="549.52" y="234.30" width="12.90" height="14.26" fill="#d02027"/>
<rect x="561.93" y="234.30" width="12.90" height="14.76" fill="#e8282f"/>
<rect x="574.34" y="234.30" width="12.90" height="14.76" fill="#ec585f"/>
<rect x="586.74" y="234.30" width="12.90" height="14.76" fill="#e83037"/>
<rect x="599.14" y="234.30" width="12.90" height="14.76" fill="#ec484f"/>
<rect x="611.55" y="234.30" width="12.40" height="14.26" fill="#8a1c28"/>
<rect x="561.93" y="248.56" width="12.90" height="14.26" fill="#f0787f"/>
<rect x="574.34" y="248.56" width="12.90" height="14.76" fill="#f49094"/>
<rect x="586.74" y="248.56" width="12.90" height="14.26" fill="#e82027"/>
<rect x="599.14" y="248.56" width="12.40" height="14.26" fill="#c82027"/>
<rect x="574.34" y="262.82" width="12.40" height="14.26" fill="#b82027"/>
<path d="M499.90 163.00V277.08M512.31 163.00V277.08M524.72 163.00V277.08M537.12 163.00V277.08M549.52 163.00V277.08M561.93 163.00V277.08M574.34 163.00V277.08M586.74 163.00V277.08M599.14 163.00V277.08M611.55 163.00V277.08M623.95 163.00V277.08M636.36 163.00V277.08M648.76 163.00V277.08M487.50 177.26H660.82M487.50 191.52H660.82M487.50 205.78H660.82M487.50 220.04H660.82M487.50 234.30H660.82M487.50 248.56H660.82M487.50 262.82H660.82" stroke="#ffffff" stroke-opacity="0.22" stroke-width="0.7" fill="none"/>
<path d="M529.12 185.99h3.6M530.92 184.19v3.6" stroke="#fff" stroke-width="0.95"/>
<path d="M541.52 185.99h3.6M543.32 184.19v3.6" stroke="#fff" stroke-width="0.95"/>
<path d="M615.95 185.99h3.6M617.75 184.19v3.6" stroke="#fff" stroke-width="0.95"/>
<path d="M628.36 185.99h3.6M630.16 184.19v3.6" stroke="#fff" stroke-width="0.95"/>
<path d="M516.71 200.25h3.6M518.51 198.45v3.6" stroke="#fff" stroke-width="0.95"/>
<path d="M529.12 200.25h3.6M530.92 198.45v3.6" stroke="#fff" stroke-width="0.95"/>
<path d="M541.52 200.25h3.6M543.32 198.45v3.6" stroke="#fff" stroke-width="0.95"/>
<path d="M553.93 200.25h3.6M555.73 198.45v3.6" stroke="#fff" stroke-width="0.95"/>
<path d="M578.74 200.25h3.6M580.54 198.45v3.6" stroke="#fff" stroke-width="0.95"/>
<path d="M591.14 200.25h3.6M592.94 198.45v3.6" stroke="#fff" stroke-width="0.95"/>
<path d="M603.55 200.25h3.6M605.35 198.45v3.6" stroke="#fff" stroke-width="0.95"/>
<path d="M553.93 214.51h3.6M555.73 212.71v3.6" stroke="#fff" stroke-width="0.95"/>
<path d="M566.33 214.51h3.6M568.13 212.71v3.6" stroke="#fff" stroke-width="0.95"/>
<path d="M578.74 214.51h3.6M580.54 212.71v3.6" stroke="#fff" stroke-width="0.95"/>
<path d="M591.14 214.51h3.6M592.94 212.71v3.6" stroke="#fff" stroke-width="0.95"/>
<path d="M603.55 214.51h3.6M605.35 212.71v3.6" stroke="#fff" stroke-width="0.95"/>
<path d="M615.95 214.51h3.6M617.75 212.71v3.6" stroke="#fff" stroke-width="0.95"/>
<path d="M566.33 228.77h3.6M568.13 226.97v3.6" stroke="#fff" stroke-width="0.95"/>
<path d="M578.74 228.77h3.6M580.54 226.97v3.6" stroke="#fff" stroke-width="0.95"/>
<path d="M603.55 228.77h3.6M605.35 226.97v3.6" stroke="#fff" stroke-width="0.95"/>
<path d="M615.95 228.77h3.6M617.75 226.97v3.6" stroke="#fff" stroke-width="0.95"/>
<path d="M553.93 243.03h3.6M555.73 241.23v3.6" stroke="#fff" stroke-width="0.95"/>
<path d="M566.33 243.03h3.6M568.13 241.23v3.6" stroke="#fff" stroke-width="0.95"/>
<path d="M578.74 243.03h3.6M580.54 241.23v3.6" stroke="#fff" stroke-width="0.95"/>
<path d="M591.14 243.03h3.6M592.94 241.23v3.6" stroke="#fff" stroke-width="0.95"/>
<path d="M603.55 243.03h3.6M605.35 241.23v3.6" stroke="#fff" stroke-width="0.95"/>
<path d="M615.95 243.03h3.6M617.75 241.23v3.6" stroke="#fff" stroke-width="0.95"/>
<path d="M566.33 257.29h3.6M568.13 255.49v3.6" stroke="#fff" stroke-width="0.95"/>
<path d="M578.74 257.29h3.6M580.54 255.49v3.6" stroke="#fff" stroke-width="0.95"/>
<path d="M591.14 257.29h3.6M592.94 255.49v3.6" stroke="#fff" stroke-width="0.95"/>
<path d="M603.55 257.29h3.6M605.35 255.49v3.6" stroke="#fff" stroke-width="0.95"/>
<path d="M578.74 271.55h3.6M580.54 269.75v3.6" stroke="#fff" stroke-width="0.95"/>
<use href="#cn" x="487.50" y="163.00"/>
<rect x="632.70" y="241.00" width="28.12" height="36.08" fill="#fff" stroke="#484848" stroke-width="1.3"/>
<g transform="translate(632.70 241.00)" fill="none" stroke="#3a3a3a" stroke-width="0.6" stroke-linecap="round">
<path d="M0.8 1.6 q1.6 0.2 2.6 1.2 q1.2 1.4 3.0 1.2 q1.6 -0.2 2.6 -1.0 q2.4 -1.6 5.4 -1.8 q2.6 -0.2 5.0 -1.0 q2.0 -0.6 3.6 0.2 q1.2 0.8 1.6 2.4 M24.2 1.4 q1.4 -0.4 2.6 -0.2" stroke-width="0.9"/>
<ellipse cx="7.2" cy="6.6" rx="1.7" ry="1.9" stroke-width="0.7"/>
<path d="M7.4 12.2l.5 1M10.6 11.2l.9.4M14.4 11.8l.8-.3M19.8 12.9h.9M21.6 12.2l.4.6M8.8 19.0l.4.8M22.6 18.4l.5-.6M14.6 21.6l.9.6M16.2 23.0l.8-.8M13.2 24.6l.9-.4M11.6 25.8l.8.3M17.8 22.4l.6-.8M19.4 20.8l.7-.3M15.4 20.0l.5.7M12.8 22.6l.6.5M9.0 27.0l.7-.4M5.6 28.2l.6.3M23.8 3.8l.3.8M24.2 7.6l.4.4M22.0 8.6l.5-.3M12.6 31.8l.7.2" stroke="#555" stroke-width="0.6"/>
</g>
<text x="649.3" y="271.6" font-size="2.90" fill="#333" stroke="#333" stroke-width="0.10" text-anchor="start" >Nanhai</text>
<text x="649.3" y="275.6" font-size="2.90" fill="#333" stroke="#333" stroke-width="0.10" text-anchor="start" >Zhudao</text>
<rect x="487.50" y="163.00" width="173.32" height="114.08" fill="none" stroke="#4e4e4e" stroke-width="1.35"/>
<text x="483.2" y="180.7" font-size="9.90" fill="#333333" stroke="#333333" stroke-width="0.18" text-anchor="end" >50°N</text>
<text x="483.2" y="209.2" font-size="9.90" fill="#333333" stroke="#333333" stroke-width="0.18" text-anchor="end" >40°N</text>
<text x="483.2" y="237.7" font-size="9.90" fill="#333333" stroke="#333333" stroke-width="0.18" text-anchor="end" >30°N</text>
<text x="483.2" y="266.2" font-size="9.90" fill="#333333" stroke="#333333" stroke-width="0.18" text-anchor="end" >20°N</text>
<text x="509.8" y="289.1" font-size="9.90" fill="#333333" stroke="#333333" stroke-width="0.18" text-anchor="middle" >80°E</text>
<text x="558.6" y="289.1" font-size="9.90" fill="#333333" stroke="#333333" stroke-width="0.18" text-anchor="middle" >100°E</text>
<text x="608.1" y="289.1" font-size="9.90" fill="#333333" stroke="#333333" stroke-width="0.18" text-anchor="middle" >120°E</text>
<text x="657.6" y="289.1" font-size="9.90" fill="#333333" stroke="#333333" stroke-width="0.18" text-anchor="middle" >140°E</text>
</g>
<text x="19.4" y="10.4" font-size="10.10" fill="#333333" stroke="#333333" stroke-width="0.18" text-anchor="start" >(a)</text>
<text x="68.4" y="10.4" font-size="10.10" fill="#333333" stroke="#333333" stroke-width="0.18" text-anchor="start" >Independent hot day</text>
<text x="242.4" y="10.4" font-size="10.10" fill="#333333" stroke="#333333" stroke-width="0.18" text-anchor="start" >(b)</text>
<text x="289.2" y="10.4" font-size="10.10" fill="#333333" stroke="#333333" stroke-width="0.18" text-anchor="start" >Independent hot night</text>
<text x="463.0" y="10.4" font-size="10.10" fill="#333333" stroke="#333333" stroke-width="0.18" text-anchor="start" >(c)</text>
<text x="480.6" y="10.4" font-size="10.10" fill="#333333" stroke="#333333" stroke-width="0.18" text-anchor="start" >Concurrent daytime-nighttime hot extreme</text>
<text x="19.4" y="158.5" font-size="10.10" fill="#333333" stroke="#333333" stroke-width="0.18" text-anchor="start" >(d)</text>
<text x="242.8" y="158.5" font-size="10.10" fill="#333333" stroke="#333333" stroke-width="0.18" text-anchor="start" >(e)</text>
<text x="463.6" y="158.5" font-size="10.10" fill="#333333" stroke="#333333" stroke-width="0.18" text-anchor="start" >(f)</text>
<rect x="671.00" y="16.60" width="5.40" height="115.80" fill="url(#cb1)"/>
<path d="M676.40 16.60V132.40" stroke="#444" stroke-width="0.7"/>
<path d="M676.00 17.60h1.7" stroke="#333" stroke-width="0.8"/>
<text x="679.6" y="20.7" font-size="9.90" fill="#333333" stroke="#333333" stroke-width="0.18" text-anchor="start" >3</text>
<path d="M676.00 46.30h1.7" stroke="#333" stroke-width="0.8"/>
<text x="679.6" y="49.4" font-size="9.90" fill="#333333" stroke="#333333" stroke-width="0.18" text-anchor="start" >2.5</text>
<path d="M676.00 75.00h1.7" stroke="#333" stroke-width="0.8"/>
<text x="679.6" y="78.1" font-size="9.90" fill="#333333" stroke="#333333" stroke-width="0.18" text-anchor="start" >2</text>
<path d="M676.00 103.60h1.7" stroke="#333" stroke-width="0.8"/>
<text x="679.6" y="106.7" font-size="9.90" fill="#333333" stroke="#333333" stroke-width="0.18" text-anchor="start" >1.5</text>
<path d="M676.00 131.80h1.7" stroke="#333" stroke-width="0.8"/>
<text x="679.6" y="134.9" font-size="9.90" fill="#333333" stroke="#333333" stroke-width="0.18" text-anchor="start" >1</text>
<rect x="670.20" y="162.40" width="5.40" height="115.40" fill="url(#cb2)"/>
<path d="M675.60 162.40V277.80" stroke="#444" stroke-width="0.7"/>
<path d="M675.20 169.40h1.7" stroke="#333" stroke-width="0.8"/>
<text x="679.6" y="172.5" font-size="9.90" fill="#333333" stroke="#333333" stroke-width="0.18" text-anchor="start" >0.4</text>
<path d="M675.20 194.90h1.7" stroke="#333" stroke-width="0.8"/>
<text x="679.6" y="198.0" font-size="9.90" fill="#333333" stroke="#333333" stroke-width="0.18" text-anchor="start" >0.2</text>
<path d="M675.20 220.30h1.7" stroke="#333" stroke-width="0.8"/>
<text x="679.6" y="223.4" font-size="9.90" fill="#333333" stroke="#333333" stroke-width="0.18" text-anchor="start" >0</text>
<path d="M675.20 246.00h1.7" stroke="#333" stroke-width="0.8"/>
<text x="679.6" y="249.1" font-size="9.90" fill="#333333" stroke="#333333" stroke-width="0.18" text-anchor="start" >−0.2</text>
<path d="M675.20 271.60h1.7" stroke="#333" stroke-width="0.8"/>
<text x="679.6" y="274.7" font-size="9.90" fill="#333333" stroke="#333333" stroke-width="0.18" text-anchor="start" >−0.4</text>
<g>
<path d="M51.49 308.40V424.30M66.57 308.40V424.30M81.66 308.40V424.30M96.74 308.40V424.30M111.83 308.40V424.30M126.92 308.40V424.30M142.00 308.40V424.30M157.09 308.40V424.30M172.18 308.40V424.30M187.26 308.40V424.30M202.35 308.40V424.30M36.40 395.32H211.40M36.40 366.35H211.40M36.40 337.38H211.40" stroke="#f2f2f2" stroke-width="0.6" fill="none"/>
<clipPath id="clipg"><rect x="36.40" y="308.40" width="175.00" height="115.90"/></clipPath>
<g clip-path="url(#clipg)" fill="none" stroke-linejoin="round">
<path d="M39.42 366.93L208.38 372.43" stroke="#1f78b8" stroke-width="1.25" stroke-dasharray="5.4 3"/>
<path d="M39.42 366.93L208.38 379.68" stroke="#d8603a" stroke-width="1.25" stroke-dasharray="5.4 3"/>
<path d="M39.42 335.64 L42.43 366.35 L45.45 359.40 L48.47 380.26 L51.49 362.87 L54.50 343.75 L57.52 366.93 L60.54 356.50 L63.56 377.94 L66.57 380.84 L69.59 364.03 L72.61 344.91 L75.62 377.94 L78.64 374.46 L81.66 371.57 L84.68 380.84 L87.69 362.29 L90.71 357.66 L93.73 394.17 L96.74 388.95 L99.76 385.47 L102.78 385.47 L105.80 358.82 L108.81 368.67 L111.83 384.31 L114.85 372.14 L117.87 378.52 L120.88 370.99 L123.90 379.10 L126.92 355.92 L129.93 361.71 L132.95 346.65 L135.97 399.38 L138.99 361.71 L142.00 378.52 L145.02 383.74 L148.04 355.34 L151.06 375.62 L154.07 383.74 L157.09 363.45 L160.11 372.14 L163.12 350.12 L166.14 377.94 L169.16 372.14 L172.18 375.62 L175.19 376.20 L178.21 366.93 L181.23 366.93 L184.24 365.77 L187.26 379.10 L190.28 370.99 L193.30 380.84 L196.31 372.14 L199.33 371.57 L202.35 358.24 L205.37 360.56 L208.38 359.98" stroke="#1f78b8" stroke-width="1.22"/>
<path d="M39.42 347.23 L42.43 366.35 L45.45 361.13 L48.47 369.25 L51.49 350.70 L54.50 337.38 L57.52 370.41 L60.54 367.51 L63.56 383.74 L66.57 376.20 L69.59 368.67 L72.61 363.45 L75.62 378.52 L78.64 382.58 L81.66 364.03 L84.68 371.57 L87.69 361.13 L90.71 350.70 L93.73 385.47 L96.74 383.16 L99.76 391.85 L102.78 395.32 L105.80 369.25 L108.81 373.30 L111.83 387.21 L114.85 393.59 L117.87 375.04 L120.88 363.45 L123.90 391.27 L126.92 351.28 L129.93 375.62 L132.95 347.23 L135.97 391.27 L138.99 373.88 L142.00 381.42 L145.02 375.04 L148.04 363.45 L151.06 387.21 L154.07 380.84 L157.09 376.20 L160.11 374.46 L163.12 359.40 L166.14 383.16 L169.16 372.14 L172.18 379.10 L175.19 382.00 L178.21 374.46 L181.23 372.14 L184.24 370.99 L187.26 387.79 L190.28 378.52 L193.30 393.01 L196.31 378.52 L199.33 380.84 L202.35 357.66 L205.37 374.46 L208.38 365.19" stroke="#d8603a" stroke-width="1.22"/>
</g>
<path d="M51.49 424.30v-2.3M51.49 308.40v2.3M66.57 424.30v-2.3M66.57 308.40v2.3M81.66 424.30v-2.3M81.66 308.40v2.3M96.74 424.30v-2.3M96.74 308.40v2.3M111.83 424.30v-2.3M111.83 308.40v2.3M126.92 424.30v-2.3M126.92 308.40v2.3M142.00 424.30v-2.3M142.00 308.40v2.3M157.09 424.30v-2.3M157.09 308.40v2.3M172.18 424.30v-2.3M172.18 308.40v2.3M187.26 424.30v-2.3M187.26 308.40v2.3M202.35 424.30v-2.3M202.35 308.40v2.3M36.40 424.30h2.3M211.40 424.30h-2.3M36.40 395.32h2.3M211.40 395.32h-2.3M36.40 366.35h2.3M211.40 366.35h-2.3M36.40 337.38h2.3M211.40 337.38h-2.3M36.40 308.40h2.3M211.40 308.40h-2.3" stroke="#333" stroke-width="0.85" fill="none"/>
<rect x="36.40" y="308.40" width="175.00" height="115.90" fill="none" stroke="#4a4a4a" stroke-width="1.3"/>
<text x="31.1" y="426.7" font-size="9.90" fill="#333333" stroke="#333333" stroke-width="0.18" text-anchor="end" >0.5</text>
<text x="31.1" y="399.5" font-size="9.90" fill="#333333" stroke="#333333" stroke-width="0.18" text-anchor="end" >1</text>
<text x="31.1" y="370.6" font-size="9.90" fill="#333333" stroke="#333333" stroke-width="0.18" text-anchor="end" >1.5</text>
<text x="31.1" y="341.6" font-size="9.90" fill="#333333" stroke="#333333" stroke-width="0.18" text-anchor="end" >2</text>
<text x="31.1" y="312.6" font-size="9.90" fill="#333333" stroke="#333333" stroke-width="0.18" text-anchor="end" >2.5</text>
<text x="35.4" y="436.7" font-size="9.90" fill="#333333" stroke="#333333" stroke-width="0.18" text-anchor="middle" >1960</text>
<text x="65.4" y="436.7" font-size="9.90" fill="#333333" stroke="#333333" stroke-width="0.18" text-anchor="middle" >1970</text>
<text x="95.4" y="436.7" font-size="9.90" fill="#333333" stroke="#333333" stroke-width="0.18" text-anchor="middle" >1980</text>
<text x="125.4" y="436.7" font-size="9.90" fill="#333333" stroke="#333333" stroke-width="0.18" text-anchor="middle" >1990</text>
<text x="155.4" y="436.7" font-size="9.90" fill="#333333" stroke="#333333" stroke-width="0.18" text-anchor="middle" >2000</text>
<text x="185.4" y="436.7" font-size="9.90" fill="#333333" stroke="#333333" stroke-width="0.18" text-anchor="middle" >2010</text>
<text x="116.7" y="450.5" font-size="10.10" fill="#333333" stroke="#333333" stroke-width="0.18" text-anchor="middle" >Year</text>
<text transform="translate(10.3 370.4) rotate(-90)" font-size="10.10" fill="#333333" stroke="#333333" stroke-width="0.18" text-anchor="middle">Number (days)</text>
<text x="0.6" y="313.0" font-size="10.10" fill="#333333" stroke="#333333" stroke-width="0.18" text-anchor="start" >(g)</text>
<text x="43.0" y="321.9" font-size="10.10" fill="#1f78b8">Rural: <tspan dx="1.1">−</tspan><tspan dx="2.4">0.02 days decade</tspan><tspan dx="0.9" dy="-3.4" font-size="6.2">−<tspan dx="0.4">1</tspan></tspan></text>
<text x="183.0" y="321.9" font-size="10.10" fill="#1f78b8" stroke="#1f78b8" stroke-width="0.18" text-anchor="start" >(0.41)</text>
<text x="42.0" y="414.0" font-size="10.10" fill="#d8603a">Urban: –0.04 days decade<tspan dx="0.9" dy="-3.4" font-size="6.2">−<tspan dx="0.4">1</tspan></tspan></text>
<text x="179.5" y="414.0" font-size="10.10" fill="#d8603a" stroke="#d8603a" stroke-width="0.18" text-anchor="start" >(0.02)</text>
</g>
<g>
<path d="M280.39 308.40V424.30M295.49 308.40V424.30M310.58 308.40V424.30M325.68 308.40V424.30M340.77 308.40V424.30M355.87 308.40V424.30M370.96 308.40V424.30M386.06 308.40V424.30M401.15 308.40V424.30M416.25 308.40V424.30M431.34 308.40V424.30M265.30 395.32H440.40M265.30 366.35H440.40M265.30 337.38H440.40" stroke="#f2f2f2" stroke-width="0.6" fill="none"/>
<clipPath id="cliph"><rect x="265.30" y="308.40" width="175.10" height="115.90"/></clipPath>
<g clip-path="url(#cliph)" fill="none" stroke-linejoin="round">
<path d="M268.32 386.34L437.38 339.98" stroke="#1f78b8" stroke-width="1.25" stroke-dasharray="5.4 3"/>
<path d="M268.32 384.49L437.38 335.64" stroke="#d8603a" stroke-width="1.25" stroke-dasharray="5.4 3"/>
<path d="M268.32 383.16 L271.34 380.84 L274.36 375.04 L277.38 365.77 L280.39 391.62 L283.41 385.88 L286.43 375.91 L289.45 373.01 L292.47 372.32 L295.49 387.33 L298.51 387.33 L301.53 387.62 L304.55 360.90 L307.57 397.76 L310.58 382.34 L313.60 381.59 L316.62 367.34 L319.64 373.77 L322.66 349.78 L325.68 370.17 L328.70 351.63 L331.72 358.06 L334.74 376.61 L337.76 386.86 L340.77 376.61 L343.79 371.57 L346.81 368.09 L349.83 366.64 L352.85 378.64 L355.87 365.19 L358.89 354.35 L361.91 395.04 L364.93 342.94 L367.94 362.24 L370.96 357.95 L373.98 358.64 L377.00 367.91 L380.02 329.96 L383.04 353.49 L386.06 365.65 L389.08 366.06 L392.10 354.93 L395.12 345.66 L398.13 357.08 L401.15 340.68 L404.17 337.09 L407.19 338.53 L410.21 376.90 L413.23 336.39 L416.25 331.58 L419.27 361.37 L422.29 331.58 L425.31 340.68 L428.32 366.35 L431.34 345.66 L434.36 318.54 L437.38 323.24" stroke="#1f78b8" stroke-width="1.22"/>
<path d="M268.32 381.59 L271.34 378.75 L274.36 374.46 L277.38 362.64 L280.39 392.02 L283.41 377.94 L286.43 376.20 L289.45 372.72 L292.47 373.88 L295.49 383.74 L298.51 380.61 L301.53 384.02 L304.55 350.94 L307.57 394.86 L310.58 380.61 L313.60 380.61 L316.62 357.77 L319.64 381.19 L322.66 354.06 L325.68 365.19 L328.70 344.91 L331.72 352.33 L334.74 371.57 L337.76 381.59 L340.77 379.45 L343.79 363.74 L346.81 364.50 L349.83 372.03 L352.85 371.57 L355.87 361.71 L358.89 345.66 L361.91 395.04 L364.93 347.81 L367.94 348.96 L370.96 362.06 L373.98 367.05 L377.00 365.77 L380.02 317.85 L383.04 350.70 L386.06 359.22 L389.08 368.49 L392.10 356.38 L395.12 337.78 L398.13 349.95 L401.15 337.09 L404.17 326.36 L407.19 335.64 L410.21 367.05 L413.23 346.36 L416.25 326.36 L419.27 341.43 L422.29 325.78 L425.31 335.06 L428.32 359.22 L431.34 347.81 L434.36 317.85 L437.38 319.41" stroke="#d8603a" stroke-width="1.22"/>
</g>
<path d="M280.39 424.30v-2.3M280.39 308.40v2.3M295.49 424.30v-2.3M295.49 308.40v2.3M310.58 424.30v-2.3M310.58 308.40v2.3M325.68 424.30v-2.3M325.68 308.40v2.3M340.77 424.30v-2.3M340.77 308.40v2.3M355.87 424.30v-2.3M355.87 308.40v2.3M370.96 424.30v-2.3M370.96 308.40v2.3M386.06 424.30v-2.3M386.06 308.40v2.3M401.15 424.30v-2.3M401.15 308.40v2.3M416.25 424.30v-2.3M416.25 308.40v2.3M431.34 424.30v-2.3M431.34 308.40v2.3M265.30 424.30h2.3M440.40 424.30h-2.3M265.30 395.32h2.3M440.40 395.32h-2.3M265.30 366.35h2.3M440.40 366.35h-2.3M265.30 337.38h2.3M440.40 337.38h-2.3M265.30 308.40h2.3M440.40 308.40h-2.3" stroke="#333" stroke-width="0.85" fill="none"/>
<rect x="265.30" y="308.40" width="175.10" height="115.90" fill="none" stroke="#4a4a4a" stroke-width="1.3"/>
<text x="261.7" y="425.9" font-size="9.90" fill="#333333" stroke="#333333" stroke-width="0.18" text-anchor="end" >0.5</text>
<text x="261.7" y="399.5" font-size="9.90" fill="#333333" stroke="#333333" stroke-width="0.18" text-anchor="end" >1</text>
<text x="261.7" y="370.6" font-size="9.90" fill="#333333" stroke="#333333" stroke-width="0.18" text-anchor="end" >1.5</text>
<text x="261.7" y="341.6" font-size="9.90" fill="#333333" stroke="#333333" stroke-width="0.18" text-anchor="end" >2</text>
<text x="261.7" y="312.6" font-size="9.90" fill="#333333" stroke="#333333" stroke-width="0.18" text-anchor="end" >2.5</text>
<text x="264.3" y="436.7" font-size="9.90" fill="#333333" stroke="#333333" stroke-width="0.18" text-anchor="middle" >1960</text>
<text x="294.3" y="436.7" font-size="9.90" fill="#333333" stroke="#333333" stroke-width="0.18" text-anchor="middle" >1970</text>
<text x="324.3" y="436.7" font-size="9.90" fill="#333333" stroke="#333333" stroke-width="0.18" text-anchor="middle" >1980</text>
<text x="354.3" y="436.7" font-size="9.90" fill="#333333" stroke="#333333" stroke-width="0.18" text-anchor="middle" >1990</text>
<text x="384.3" y="436.7" font-size="9.90" fill="#333333" stroke="#333333" stroke-width="0.18" text-anchor="middle" >2000</text>
<text x="414.3" y="436.7" font-size="9.90" fill="#333333" stroke="#333333" stroke-width="0.18" text-anchor="middle" >2010</text>
<text x="340.2" y="451.1" font-size="10.10" fill="#333333" stroke="#333333" stroke-width="0.18" text-anchor="middle" >Year</text>
<text transform="translate(235.2 370.4) rotate(-90)" font-size="10.10" fill="#333333" stroke="#333333" stroke-width="0.18" text-anchor="middle">Number (days)</text>
<text x="227.1" y="313.0" font-size="10.10" fill="#333333" stroke="#333333" stroke-width="0.18" text-anchor="start" >(h)</text>
<text x="269.5" y="321.6" font-size="10.10" fill="#1f78b8">Rural: 0.14 days decade<tspan dx="0.9" dy="-3.4" font-size="6.2">−<tspan dx="0.4">1</tspan></tspan></text>
<text x="398.8" y="321.6" font-size="10.10" fill="#1f78b8" stroke="#1f78b8" stroke-width="0.18" text-anchor="start" >(0.00)</text>
<text x="273.5" y="415.0" font-size="10.10" fill="#d8603a">Urban: 0.15 days decade<tspan dx="0.9" dy="-3.4" font-size="6.2">−<tspan dx="0.4">1</tspan></tspan></text>
<text x="403.8" y="415.0" font-size="10.10" fill="#d8603a" stroke="#d8603a" stroke-width="0.18" text-anchor="start" >(0.00)</text>
</g>
<g>
<path d="M505.39 308.40V424.30M520.49 308.40V424.30M535.58 308.40V424.30M550.68 308.40V424.30M565.77 308.40V424.30M580.87 308.40V424.30M595.96 308.40V424.30M611.06 308.40V424.30M626.15 308.40V424.30M641.25 308.40V424.30M656.34 308.40V424.30M490.30 401.12H665.40M490.30 377.94H665.40M490.30 354.76H665.40M490.30 331.58H665.40" stroke="#f2f2f2" stroke-width="0.6" fill="none"/>
<clipPath id="clipi"><rect x="490.30" y="308.40" width="175.10" height="115.90"/></clipPath>
<g clip-path="url(#clipi)" fill="none" stroke-linejoin="round">
<path d="M493.32 403.30L662.38 367.74" stroke="#1f78b8" stroke-width="1.25" stroke-dasharray="5.4 3"/>
<path d="M493.32 409.00L662.38 356.15" stroke="#d8603a" stroke-width="1.25" stroke-dasharray="5.4 3"/>
<path d="M493.32 390.74 L496.34 397.87 L499.36 395.74 L502.38 385.73 L505.39 400.75 L508.41 373.63 L511.43 380.03 L514.45 403.58 L517.47 403.58 L520.49 406.45 L523.51 385.73 L526.53 397.87 L529.55 395.74 L532.57 397.87 L535.58 402.19 L538.60 409.28 L541.62 382.16 L544.64 378.64 L547.66 400.75 L550.68 401.44 L553.70 387.21 L556.72 403.58 L559.74 389.30 L562.76 412.85 L565.77 411.46 L568.79 394.31 L571.81 406.45 L574.83 379.33 L577.85 404.37 L580.87 405.01 L583.89 377.94 L586.91 382.11 L589.93 407.15 L592.94 365.75 L595.96 365.75 L598.98 394.31 L602.00 375.76 L605.02 371.45 L608.04 375.76 L611.06 365.75 L614.08 388.60 L617.10 371.45 L620.12 380.03 L623.13 382.16 L626.15 374.32 L629.17 371.45 L632.19 365.05 L635.21 399.31 L638.23 387.21 L641.25 345.77 L644.27 378.64 L647.29 390.04 L650.31 369.32 L653.32 390.04 L656.34 357.08 L659.36 334.36 L662.38 323.70" stroke="#1f78b8" stroke-width="1.22"/>
<path d="M493.32 390.04 L496.34 395.74 L499.36 393.61 L502.38 389.30 L505.39 404.32 L508.41 380.03 L511.43 392.87 L514.45 405.01 L517.47 408.58 L520.49 412.85 L523.51 385.03 L526.53 398.62 L529.55 397.87 L532.57 398.62 L535.58 404.32 L538.60 413.59 L541.62 384.34 L544.64 380.77 L547.66 400.75 L550.68 402.19 L553.70 380.77 L556.72 401.44 L559.74 388.60 L562.76 410.02 L565.77 412.85 L568.79 390.04 L571.81 397.87 L574.83 373.63 L577.85 403.58 L580.87 403.58 L583.89 378.64 L586.91 379.33 L589.93 405.76 L592.94 368.67 L595.96 360.79 L598.98 387.91 L602.00 374.32 L605.02 364.36 L608.04 368.67 L611.06 362.18 L614.08 375.76 L617.10 367.93 L620.12 363.61 L623.13 375.07 L626.15 366.49 L629.17 359.40 L632.19 355.08 L635.21 385.82 L638.23 377.20 L641.25 333.67 L644.27 375.16 L647.29 375.16 L650.31 358.65 L653.32 379.33 L656.34 342.94 L659.36 325.78 L662.38 310.81" stroke="#d8603a" stroke-width="1.22"/>
</g>
<path d="M505.39 424.30v-2.3M505.39 308.40v2.3M520.49 424.30v-2.3M520.49 308.40v2.3M535.58 424.30v-2.3M535.58 308.40v2.3M550.68 424.30v-2.3M550.68 308.40v2.3M565.77 424.30v-2.3M565.77 308.40v2.3M580.87 424.30v-2.3M580.87 308.40v2.3M595.96 424.30v-2.3M595.96 308.40v2.3M611.06 424.30v-2.3M611.06 308.40v2.3M626.15 424.30v-2.3M626.15 308.40v2.3M641.25 424.30v-2.3M641.25 308.40v2.3M656.34 424.30v-2.3M656.34 308.40v2.3M490.30 424.30h2.3M665.40 424.30h-2.3M490.30 401.12h2.3M665.40 401.12h-2.3M490.30 377.94h2.3M665.40 377.94h-2.3M490.30 354.76h2.3M665.40 354.76h-2.3M490.30 331.58h2.3M665.40 331.58h-2.3M490.30 308.40h2.3M665.40 308.40h-2.3" stroke="#333" stroke-width="0.85" fill="none"/>
<rect x="490.30" y="308.40" width="175.10" height="115.90" fill="none" stroke="#4a4a4a" stroke-width="1.3"/>
<text x="485.0" y="428.8" font-size="9.90" fill="#333333" stroke="#333333" stroke-width="0.18" text-anchor="end" >1</text>
<text x="485.0" y="405.3" font-size="9.90" fill="#333333" stroke="#333333" stroke-width="0.18" text-anchor="end" >1.5</text>
<text x="485.0" y="382.1" font-size="9.90" fill="#333333" stroke="#333333" stroke-width="0.18" text-anchor="end" >2</text>
<text x="485.0" y="359.0" font-size="9.90" fill="#333333" stroke="#333333" stroke-width="0.18" text-anchor="end" >2.5</text>
<text x="485.0" y="335.8" font-size="9.90" fill="#333333" stroke="#333333" stroke-width="0.18" text-anchor="end" >3</text>
<text x="485.0" y="312.6" font-size="9.90" fill="#333333" stroke="#333333" stroke-width="0.18" text-anchor="end" >3.5</text>
<text x="489.3" y="436.7" font-size="9.90" fill="#333333" stroke="#333333" stroke-width="0.18" text-anchor="middle" >1960</text>
<text x="519.3" y="436.7" font-size="9.90" fill="#333333" stroke="#333333" stroke-width="0.18" text-anchor="middle" >1970</text>
<text x="549.3" y="436.7" font-size="9.90" fill="#333333" stroke="#333333" stroke-width="0.18" text-anchor="middle" >1980</text>
<text x="579.3" y="436.7" font-size="9.90" fill="#333333" stroke="#333333" stroke-width="0.18" text-anchor="middle" >1990</text>
<text x="609.3" y="436.7" font-size="9.90" fill="#333333" stroke="#333333" stroke-width="0.18" text-anchor="middle" >2000</text>
<text x="639.3" y="436.7" font-size="9.90" fill="#333333" stroke="#333333" stroke-width="0.18" text-anchor="middle" >2010</text>
<text x="560.8" y="451.2" font-size="10.10" fill="#333333" stroke="#333333" stroke-width="0.18" text-anchor="middle" >Year</text>
<text transform="translate(458.2 370.4) rotate(-90)" font-size="10.10" fill="#333333" stroke="#333333" stroke-width="0.18" text-anchor="middle">Number (days)</text>
<text x="453.1" y="313.0" font-size="10.10" fill="#333333" stroke="#333333" stroke-width="0.18" text-anchor="start" >(i)</text>
<text x="497.5" y="324.0" font-size="10.10" fill="#1f78b8">Rural: 0.14 days decade<tspan dx="0.9" dy="-3.4" font-size="6.2">−<tspan dx="0.4">1</tspan></tspan></text>
<text x="624.2" y="324.0" font-size="10.10" fill="#1f78b8" stroke="#1f78b8" stroke-width="0.18" text-anchor="start" >(0.00)</text>
<text x="499.5" y="419.9" font-size="10.10" fill="#d8603a">Urban: 0.20 days decade<tspan dx="0.9" dy="-3.4" font-size="6.2">−<tspan dx="0.4">1</tspan></tspan></text>
<text x="630.0" y="419.9" font-size="10.10" fill="#d8603a" stroke="#d8603a" stroke-width="0.18" text-anchor="start" >(0.00)</text>
</g>
</g>
</svg>
</body></html>
